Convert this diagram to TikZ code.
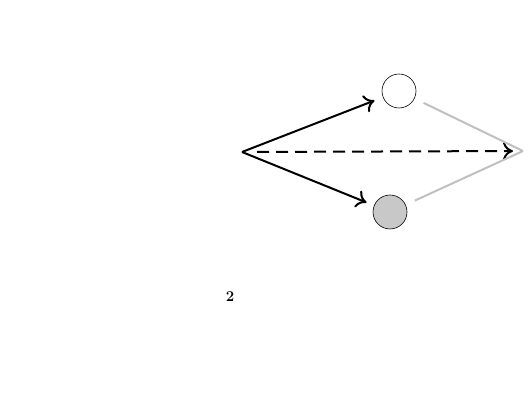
\documentclass[tikz,border=0pt]{standalone}
\usetikzlibrary{arrows.meta}
\definecolor{lightline}{HTML}{C0C0C0}
\definecolor{ballfill}{HTML}{C8C8C8}
\tikzset{
  ball/.style={circle, draw=black, line width=0.6pt, minimum size=34pt, inner sep=0pt},
  blackarrow/.style={line width=2pt, -{To[length=10pt,width=18pt,line width=2pt]}},
  grayline/.style={line width=2pt, draw=lightline},
  dasharrow/.style={line width=2pt, dash pattern=on 12pt off 7pt, -{To[length=10pt,width=18pt,line width=2pt]}},
  lbl/.style={font=\fontsize{15}{17}\selectfont\bfseries, inner sep=0pt}
}
\begin{document}
\begin{tikzpicture}[x=1pt,y=-1pt]
  \useasboundingbox (0,0) rectangle (528,411);
  \coordinate (src) at (242,152);
  \coordinate (tip) at (523,151);
  \node[ball, fill=white] (top) at (399,91) {};
  \node[ball, fill=ballfill] (bot) at (390,212) {};
  \draw[blackarrow, shorten >=9pt] (src) -- (top);
  \draw[blackarrow, shorten >=8pt] (src) -- (bot);
  \draw[dasharrow, shorten <=15pt, shorten >=10pt] (src) -- (tip);
  \draw[grayline, shorten <=10pt] (top) -- (tip);
  \draw[grayline, shorten <=10pt] (bot) -- (tip);
  \node[lbl] (two) at (230,297) {2};
\end{tikzpicture}
\end{document}
